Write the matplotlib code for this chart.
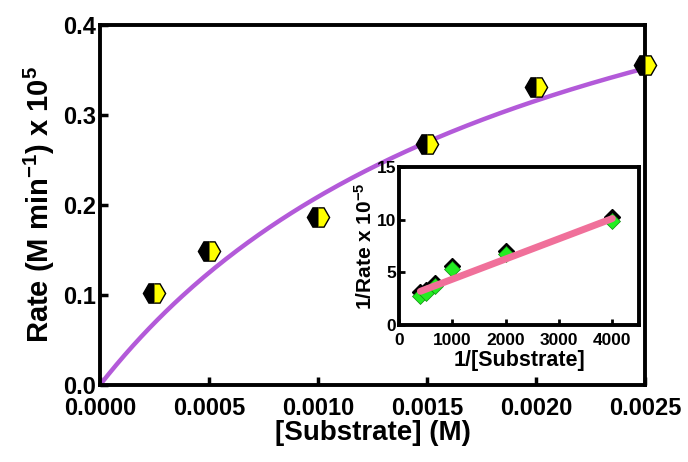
import matplotlib.pyplot as plt
import matplotlib.transforms as mtransforms
import numpy as np

plt.rcParams['font.family'] = ['Liberation Sans', 'DejaVu Sans']
plt.rcParams['font.weight'] = 'bold'
plt.rcParams['axes.labelweight'] = 'bold'
plt.rcParams['mathtext.fontset'] = 'custom'
plt.rcParams['mathtext.rm'] = 'Liberation Sans:bold'
plt.rcParams['mathtext.bf'] = 'Liberation Sans:bold'
plt.rcParams['mathtext.default'] = 'bf'

# Main plot data (substrate in M, rate x 10^5)
substrate = [0.00025, 0.0005, 0.0010, 0.0015, 0.0020, 0.0025]
rate = [0.102, 0.149, 0.187, 0.268, 0.331, 0.356]

# Michaelis-Menten fit parameters
vmax = 0.646
km = 0.00209

# Inset (Lineweaver-Burk) data
inv_substrate = [400, 500, 667, 1000, 2000, 4000]
inv_rate = [2.8, 3.0, 3.7, 5.3, 6.7, 9.9]
lb_slope = 0.00192
lb_intercept = 2.43
lb_range = [400, 4000]

main_xticks = [0.0, 0.0005, 0.0010, 0.0015, 0.0020, 0.0025]
main_yticks = [0.0, 0.1, 0.2, 0.3, 0.4]
inset_xticks = [0, 1000, 2000, 3000, 4000]
inset_yticks = [0, 5, 10, 15]

fig = plt.figure(figsize=(6.88, 4.62), dpi=100)
ax = fig.add_axes([0.1453, 0.1667, 0.7922, 0.7792])

# fitted curve
s = np.linspace(0, max(substrate), 200)
ax.plot(s, vmax * s / (km + s), color='#b35ad9', lw=3.2, zorder=2)

ax.plot(substrate, rate, linestyle='none', marker='H', markersize=16,
        fillstyle='left', markerfacecolor='black', markerfacecoloralt='#ffff00',
        markeredgecolor='black', markeredgewidth=1, clip_on=False, zorder=3)

ax.set_xlim(0, 0.0025)
ax.set_ylim(0, 0.4)
ax.set_xticks(main_xticks)
ax.set_xticklabels(['%.4f' % v for v in main_xticks])
ax.set_yticks(main_yticks)
ax.set_yticklabels(['%.1f' % v for v in main_yticks])
ax.tick_params(direction='in', length=6, width=2.5, labelsize=17)
ax.tick_params(axis='x', pad=9)
ax.tick_params(axis='y', pad=3)
for sp in ax.spines.values():
    sp.set_linewidth(2.8)
ax.set_xlabel('[Substrate] (M)', fontsize=20, labelpad=0)
ax.set_ylabel(r'Rate (M min$^{-1}$) x 10$^{5}$', fontsize=21, labelpad=4)

# inset
ins = fig.add_axes([0.58, 0.2965, 0.3488, 0.342])
ins.plot(lb_range, [lb_slope * x + lb_intercept for x in lb_range],
         color='#f0709a', lw=5, solid_capstyle='round', zorder=2)
shadow = mtransforms.offset_copy(ins.transData, fig=fig, x=0, y=2.5, units='points')
ins.plot(inv_substrate, inv_rate, linestyle='none', marker='D', markersize=8,
         color='black', transform=shadow, zorder=1)
ins.plot(inv_substrate, inv_rate, linestyle='none', marker='D', markersize=8,
         markerfacecolor='#22ee22', markeredgecolor='#118811', markeredgewidth=0.5,
         zorder=1.5)
ins.set_xlim(0, 4500)
ins.set_ylim(0, 15)
ins.set_xticks(inset_xticks)
ins.set_yticks(inset_yticks)
ins.tick_params(direction='in', length=4, width=2, labelsize=12.5)
ins.tick_params(axis='x', pad=6)
ins.tick_params(axis='y', pad=2)
for sp in ins.spines.values():
    sp.set_linewidth(2.8)
ins.set_xlabel('1/[Substrate]', fontsize=15.5, labelpad=1)
ins.set_ylabel(r'1/Rate x 10$^{-5}$', fontsize=15, labelpad=1)

fig.savefig('out.png', dpi=100)
